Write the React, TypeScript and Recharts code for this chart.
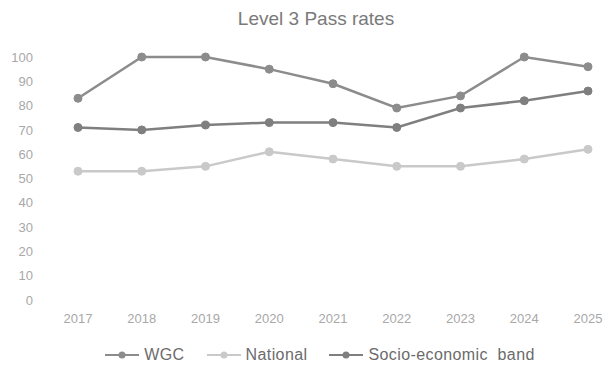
import { LineChart, Line, XAxis, YAxis, Legend } from 'recharts'

const years = ['2017', '2018', '2019', '2020', '2021', '2022', '2023', '2024', '2025']
const wgc = [83, 100, 100, 95, 89, 79, 84, 100, 96]
const national = [53, 53, 55, 61, 58, 55, 55, 58, 62]
const socioBand = [71, 70, 72, 73, 73, 71, 79, 82, 86]
const yTicks = [0, 10, 20, 30, 40, 50, 60, 70, 80, 90, 100]

const seriesInfo = [
  { key: 'wgc', name: 'WGC', color: '#8c8c8c' },
  { key: 'national', name: 'National', color: '#c9c9c9' },
  { key: 'socio', name: 'Socio-economic  band', color: '#7f7f7f' },
]

const data = years.map((year, i) => ({
  year,
  wgc: wgc[i],
  national: national[i],
  socio: socioBand[i],
}))

const FONT = '"Liberation Sans", Arial, sans-serif'

function LegendRow() {
  return (
    <div style={{ display: 'flex', justifyContent: 'center', alignItems: 'center', gap: 22, paddingLeft: 48, fontFamily: FONT, fontSize: 16, color: '#6b6b6b', whiteSpace: 'pre', letterSpacing: 0.4 }}>
      {seriesInfo.map(s => (
        <div key={s.key} style={{ display: 'flex', alignItems: 'center', gap: 5 }}>
          <svg width={34} height={10}>
            <line x1={0} y1={5} x2={34} y2={5} stroke={s.color} strokeWidth={2} />
            <circle cx={17} cy={5} r={3.5} fill={s.color} />
          </svg>
          <span>{s.name}</span>
        </div>
      ))}
    </div>
  )
}

export default function App() {
  return (
    <div style={{ position: 'absolute', left: 0, top: 0, width: 614, height: 369, background: '#fff' }}>
      <div style={{ position: 'absolute', top: 8, left: 0, width: 632, textAlign: 'center', fontFamily: FONT, fontSize: 19, color: '#7a7a7a' }}>
        Level 3 Pass rates
      </div>
      <LineChart width={614} height={369} data={data} margin={{ top: 57, right: 22, bottom: 0, left: 0 }}>
        <XAxis
          dataKey="year"
          axisLine={false}
          tickLine={false}
          tickSize={0}
          tickMargin={14}
          padding={{ left: 38, right: 4 }}
          tick={{ fill: '#a8a8a8', fontSize: 13, fontFamily: FONT }}
          height={36}
        />
        <YAxis
          domain={[0, 100]}
          ticks={yTicks}
          interval={0}
          axisLine={false}
          tickLine={false}
          tickSize={0}
          tickMargin={7}
          width={40}
          tick={{ fill: '#a8a8a8', fontSize: 13, fontFamily: FONT }}
        />
        <Legend verticalAlign="bottom" height={33} wrapperStyle={{ bottom: -10 }} content={() => <LegendRow />} />
        {seriesInfo.map(s => (
          <Line
            key={s.key}
            type="linear"
            dataKey={s.key}
            name={s.name}
            stroke={s.color}
            strokeWidth={2.5}
            dot={{ r: 4, fill: s.color, stroke: s.color, strokeWidth: 1 }}
            isAnimationActive={false}
          />
        ))}
      </LineChart>
    </div>
  )
}
